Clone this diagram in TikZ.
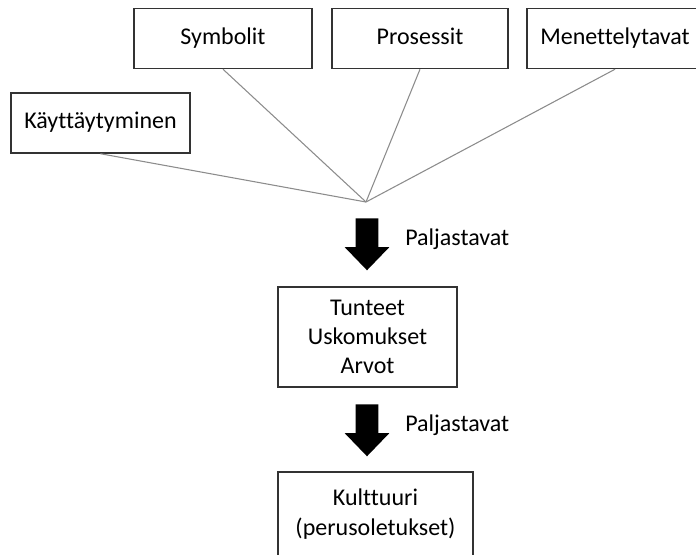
\documentclass[tikz,border=0pt]{standalone}
\usepackage{fontspec}
\setmainfont{Carlito}[Ligatures=NoCommon]
\usetikzlibrary{positioning,shapes.arrows}

\begin{document}
\begin{tikzpicture}[x=0.75pt,y=-0.75pt,
    box/.style={draw=black!80,line width=1.1pt,fill=white,align=center,
                minimum height=45pt,inner sep=0pt,font=\fontsize{18}{22}\selectfont},
    oneline/.style={box,text height=12.5pt,text depth=4pt},
    feed/.style={draw=black!45,line width=0.8pt},
    bigarrow/.style={single arrow,fill=black,draw=none,rotate=-90,anchor=tail,
                     inner xsep=0pt,inner ysep=8.25pt,minimum width=0pt,
                     minimum height=39pt,single arrow head extend=8.25pt,
                     single arrow tip angle=88},
    lbl/.style={anchor=west,inner sep=0pt,font=\fontsize{18}{22}\selectfont}]
        \useasboundingbox (0,0) rectangle (696,554);
        \clip (0,0) rectangle (696,554);

        % top row of boxes
        \node[oneline, minimum width=134.25pt] (kay) at (100.5,123)  {Käyttäytyminen};
        \node[oneline, minimum width=133.5pt]  (sym) at (223,38.5)   {Symbolit};
        \node[oneline, minimum width=132pt]    (pro) at (420,38.5)   {Prosessit};
        \node[oneline, minimum width=132pt]    (men) at (615,38.5)   {Menettelytavat};

        \coordinate (apex) at (366,202);

        \path
            (kay.south) edge [feed] (apex)
            (sym.south) edge [feed] (apex)
            (pro.south) edge [feed] (apex)
            (men.south) edge [feed] (apex)
        ;

        % arrows down
        \node[bigarrow] (arr1) at (367,218) {};
        \node[lbl]      (lab1) at (405,239) {Paljastavat};

        \node[box, minimum width=134.25pt, minimum height=75pt] (tun) at (367.5,337)
            {Tunteet\\Uskomukset\\Arvot};

        \node[bigarrow] (arr2) at (367,404) {};
        \node[lbl]      (lab2) at (405,425) {Paljastavat};

        \node[box, minimum width=146.25pt, minimum height=63pt] (kul) at (375.5,514)
            {Kulttuuri\\(perusoletukset)};
    \end{tikzpicture}
\end{document}
